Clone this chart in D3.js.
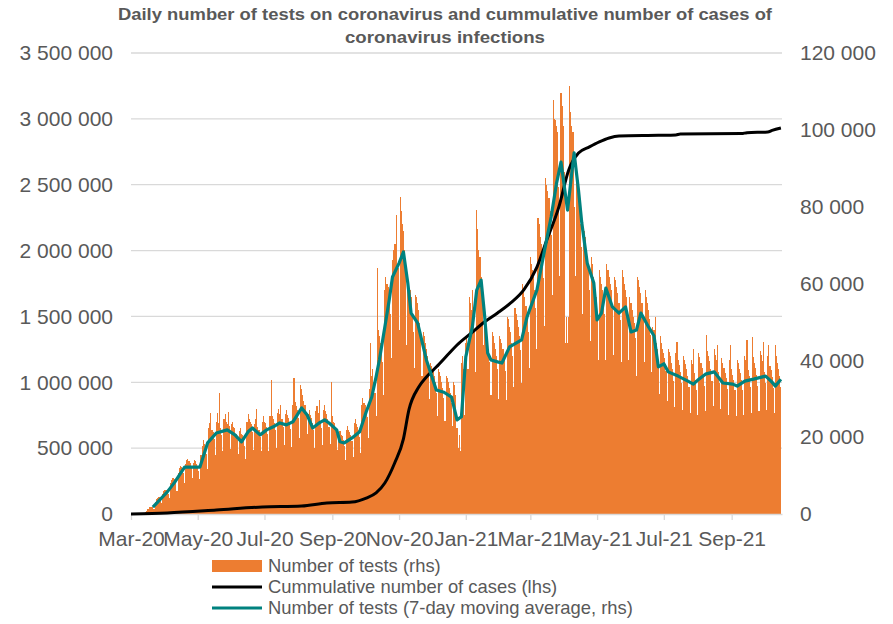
<!DOCTYPE html>
<html>
<head>
<meta charset="utf-8">
<script src="https://cdn.jsdelivr.net/npm/d3@7"></script>
<style>
  body { margin: 0; background: #fff; }
  text { font-family: "Liberation Sans", Arial, sans-serif; }
</style>
</head>
<body>
<div id="chart"></div>
<script>
// daily number of tests (right axis), one row per week Mon..Sun, starting Mon 2 Mar 2020
var testsStart = "2020-03-02";
var testsByWeek = [
  [0,0,0,0,0,0,0],
  [0,0,0,0,0,500,700],
  [1200,1400,1700,1900,1800,1700,1300],
  [3100,3800,4100,4400,4300,3900,2900],
  [5300,6000,6300,6200,5800,5300,4100],
  [8100,8900,9300,9400,9100,8400,6100],
  [10600,12000,12500,12300,11700,10800,8000],
  [13000,14100,14400,13700,13400,12300,9300],
  [13400,14100,13700,13000,12300,11300,9000],
  [15400,17800,19200,18200,17100,15700,11800],
  [22300,23700,26400,21900,21300,19600,15400],
  [24000,26400,23700,31500,22300,20500,16500],
  [24700,26100,24000,23300,26600,23000,16800],
  [23300,24000,22600,22300,20900,19200,15500],
  [21600,22300,20900,20600,19200,17700,14200],
  [24000,26100,24700,24000,23300,21400,16600],
  [23300,24700,27300,22600,21900,20100,16300],
  [24000,25400,24000,23700,22600,20800,16500],
  [25400,35000,25400,24700,23700,21800,17200],
  [26400,27400,26100,28400,24700,22700,18000],
  [26100,27100,25700,25000,24000,22100,17400],
  [28500,35300,29100,28100,27100,24900,19800],
  [33600,32600,30900,29500,28500,26200,20800],
  [26100,27100,25700,25000,23700,21800,17300],
  [26700,28100,26400,29700,24300,22400,18000],
  [27100,28500,26700,26100,24700,22700,18100],
  [34300,25400,24000,23700,22600,20800,16600],
  [20900,21600,20600,20200,19200,17700,14000],
  [21900,23000,21900,21300,20600,19000,14800],
  [23700,24700,23300,22600,21900,20100,15800],
  [28500,30200,28800,28500,27400,25200,19700],
  [32600,44600,36000,37700,34300,31600,25600],
  [64100,48000,46300,44600,42900,39500,31000],
  [58300,61700,60000,59000,56600,52000,40500],
  [66200,68600,70300,70300,77800,64000,48000],
  [82600,78900,75400,73700,68600,63100,44000],
  [61700,60000,58300,56600,51400,47300,38000],
  [56900,56600,54900,53100,49700,45700,36000],
  [47300,46300,44600,42900,41100,37800,30000],
  [39400,38400,37000,36000,34300,31600,25400],
  [37700,37000,36000,34300,32900,30300,24200],
  [36000,35300,34300,32900,31500,29000,23000],
  [34300,33600,30900,22300,17100,20600,16500],
  [39400,41100,37700,25700,44600,46300,37700],
  [56600,54900,53100,58300,51400,47300,37000],
  [79200,74100,68600,66900,61700,56800,44000],
  [49700,48000,46300,44600,42900,39500,31000],
  [47300,46300,44600,42900,41100,37800,30000],
  [46300,45600,44600,42900,40500,37300,29800],
  [51400,50700,48700,47300,44600,41000,33000],
  [53500,52100,50400,48700,46300,42600,34000],
  [60000,58300,56600,54200,51400,47300,38000],
  [66900,65100,63400,61700,58300,53600,43000],
  [77100,75400,72000,70300,66900,61500,49000],
  [87400,85700,84000,82300,78900,72600,57000],
  [107700,102900,102500,101100,99400,85000,62000],
  [109700,106300,101100,89100,44600,51400,44600],
  [51400,111400,104600,101100,99400,80000,62000],
  [90900,89100,84000,80600,75400,69400,52000],
  [73700,72000,68600,66900,63400,58300,45000],
  [66900,65100,61700,60000,56600,52100,40000],
  [63400,61700,60000,58300,56600,52100,40000],
  [65100,63400,61700,60000,58300,53600,41500],
  [61700,61000,59000,57600,54900,50500,39600],
  [63400,61700,60000,58300,56600,52100,40000],
  [56600,54900,53100,51400,49700,45700,35800],
  [61700,61000,59000,57600,54900,50500,39600],
  [58300,56600,54900,53100,50700,46600,37000],
  [48700,48000,51400,44600,42900,39500,31200],
  [46300,44600,42900,41800,40500,37300,29500],
  [42900,42200,41100,39400,37700,34700,27800],
  [41800,44800,40100,38700,37000,34000,27000],
  [41100,40100,39100,37700,36000,33100,26400],
  [40100,39100,43000,36700,35000,32200,25800],
  [41800,40800,39400,38100,36300,33400,26700],
  [46500,42500,41100,39800,37700,34700,28000],
  [42900,41500,40100,43900,37000,34000,27400],
  [40500,39400,38100,36700,35300,32500,25800],
  [40100,44000,37700,36300,35000,32200,25600],
  [40100,39400,37700,36700,35000,32200,25700],
  [41100,40100,45200,37400,36000,33100,26400],
  [46000,40800,39400,38100,36300,33400,26800],
  [42500,41500,39800,44800,37000,34000,27200],
  [41100,44000,38400,37400,35700,32800,26200],
  [43900,41100,39400,37700,36000,33100]
];

// 7-day moving average of tests (right axis)
var maDates = ["2020-03-21","2020-04-03","2020-04-10","2020-04-19","2020-05-03","2020-05-10","2020-05-18","2020-05-28",
  "2020-06-04","2020-06-10","2020-06-16","2020-06-20","2020-06-27","2020-07-03","2020-07-09","2020-07-15","2020-07-21",
  "2020-07-27","2020-08-04","2020-08-09","2020-08-14","2020-08-20","2020-08-25","2020-08-29","2020-09-05","2020-09-08",
  "2020-09-12","2020-09-19","2020-09-26","2020-10-02","2020-10-07","2020-10-11","2020-10-14","2020-10-19","2020-10-23",
  "2020-10-26","2020-11-01","2020-11-05","2020-11-09","2020-11-12","2020-11-18","2020-11-26","2020-12-05","2020-12-12",
  "2020-12-19","2020-12-24","2020-12-28","2021-01-01","2021-01-07","2021-01-11","2021-01-15","2021-01-18","2021-01-21",
  "2021-01-24","2021-01-30","2021-02-03","2021-02-10","2021-02-21","2021-02-26","2021-03-07","2021-03-14","2021-03-20",
  "2021-03-25","2021-03-29","2021-04-04","2021-04-10","2021-04-14","2021-04-17","2021-04-22","2021-04-28","2021-05-01",
  "2021-05-05","2021-05-09","2021-05-15","2021-05-21","2021-05-27","2021-06-01","2021-06-06","2021-06-10","2021-06-17",
  "2021-06-22","2021-06-26","2021-07-01","2021-07-05","2021-07-14","2021-07-23","2021-07-28","2021-08-02","2021-08-08",
  "2021-08-16","2021-08-24","2021-09-02","2021-09-06","2021-09-13","2021-09-21","2021-10-02","2021-10-07","2021-10-11",
  "2021-10-16"];
var maValues = [1800,5700,8300,12200,12200,18500,21100,21900,20600,18800,21400,22400,20600,21900,22700,23700,23200,24000,
  27600,25800,22400,23700,24500,23700,21900,18800,18500,19800,21400,26600,30400,35700,40100,48700,55700,61700,65300,68200,
  60100,52300,49700,40100,32300,31700,30400,24500,25300,40900,48700,58300,60900,52300,41900,40100,39600,39300,43500,45300,
  51300,58300,68700,77300,86200,91600,79100,94000,84300,75800,65300,60100,50500,52300,58800,53900,52300,53900,47400,47900,
  52300,48700,46400,38300,39100,37000,35900,34600,33800,35100,36400,37000,34100,33800,33300,34600,35100,35900,34600,33300,
  35100];

// cumulative number of cases (left axis)
var casesDates = ["2020-03-01","2020-04-03","2020-05-18","2020-06-29","2020-08-04","2020-08-27","2020-09-19","2020-10-02",
  "2020-10-11","2020-10-19","2020-10-28","2020-11-05","2020-11-10","2020-11-19","2020-11-26","2020-12-05","2020-12-17",
  "2020-12-24","2021-01-06","2021-01-18","2021-01-30","2021-02-11","2021-02-23","2021-03-07","2021-03-16","2021-03-27",
  "2021-04-05","2021-04-14","2021-04-24","2021-05-03","2021-05-12","2021-05-21","2021-06-26","2021-07-12","2021-07-16",
  "2021-09-10","2021-09-15","2021-10-04","2021-10-08","2021-10-16"];
var casesValues = [0,8000,30000,53000,61000,84000,91000,121000,160000,235000,387000,570000,790000,964000,1040000,1116000,
  1222000,1283000,1374000,1458000,1526000,1602000,1701000,1875000,2080000,2330000,2610000,2740000,2787000,2825000,2855000,
  2870000,2875000,2878000,2885000,2888000,2895000,2900000,2912000,2930000];

var leftTicks = [0,500000,1000000,1500000,2000000,2500000,3000000,3500000];
var rightTicks = [0,20000,40000,60000,80000,100000,120000];
var titleLines = ["Daily number of tests on coronavirus and cummulative number of cases of", "coronavirus infections"];
var legendLabels = ["Number of tests (rhs)", "Cummulative number of cases (lhs)", "Number of tests (7-day moving average, rhs)"];

var W = 893, H = 624;
var margin = {top: 53, right: 111, bottom: 110, left: 131};
var parse = d3.timeParse("%Y-%m-%d");
var grey = "#595959";

var svg = d3.select("#chart").append("svg")
  .attr("width", W).attr("height", H);

var t0 = parse(testsStart);
var tests = testsByWeek.flat().map(function(v, i) {
  return {date: d3.timeDay.offset(t0, i), value: v};
});
var ma = maDates.map(function(d, i) { return {date: parse(d), value: maValues[i]}; });
var cases = casesDates.map(function(d, i) { return {date: parse(d), value: casesValues[i]}; });

var x = d3.scaleTime()
  .domain([parse("2020-03-01"), parse("2021-10-17")])
  .range([margin.left, W - margin.right]);
var yL = d3.scaleLinear().domain([0, 3500000]).range([H - margin.bottom, margin.top]);
var yR = d3.scaleLinear().domain([0, 120000]).range([H - margin.bottom, margin.top]);

var fmt = d3.formatLocale({decimal: ",", thousands: " ", grouping: [3], currency: ["", ""]}).format(",");

// gridlines
svg.append("g").selectAll("line")
  .data(leftTicks.slice(1))
  .enter().append("line")
    .attr("x1", margin.left).attr("x2", W - margin.right)
    .attr("y1", function(d) { return yL(d); })
    .attr("y2", function(d) { return yL(d); })
    .attr("stroke", "#d9d9d9").attr("stroke-width", 1.3);

// bars - one per day, snapped to whole pixels so they sit edge to edge
var step = x(d3.timeDay.offset(t0, 1)) - x(t0);
function left(d) { return Math.round(x(d) - step / 2); }
svg.append("g").attr("shape-rendering", "crispEdges").selectAll("rect")
  .data(tests.filter(function(d) { return d.value > 0; }))
  .enter().append("rect")
    .attr("x", function(d) { return left(d.date); })
    .attr("width", function(d) { return left(d3.timeDay.offset(d.date, 1)) - left(d.date); })
    .attr("y", function(d) { return yR(d.value); })
    .attr("height", function(d) { return yR(0) - yR(d.value); })
    .attr("fill", "#ed7d31");

// x axis
var xAxis = svg.append("g")
  .attr("transform", "translate(0," + (H - margin.bottom) + ")")
  .call(d3.axisBottom(x)
    .ticks(d3.timeMonth.every(2))
    .tickFormat(d3.timeFormat("%b-%y"))
    .tickSizeInner(6).tickSizeOuter(0).tickPadding(11));
xAxis.select(".domain").attr("stroke", "#d9d9d9").attr("stroke-width", 1.3);
xAxis.selectAll(".tick line").attr("stroke", "#d9d9d9").attr("stroke-width", 1.3);
xAxis.selectAll("text").attr("fill", grey).style("font-size", "21px");

// left axis
var lAxis = svg.append("g")
  .attr("transform", "translate(" + margin.left + ",0)")
  .call(d3.axisLeft(yL).tickValues(leftTicks).tickFormat(fmt).tickSize(0).tickPadding(18));
lAxis.select(".domain").remove();
lAxis.selectAll("text").attr("fill", grey).style("font-size", "21px");

// right axis
var rAxis = svg.append("g")
  .attr("transform", "translate(" + (W - margin.right) + ",0)")
  .call(d3.axisRight(yR).tickValues(rightTicks).tickFormat(fmt).tickSize(0).tickPadding(18));
rAxis.select(".domain").remove();
rAxis.selectAll("text").attr("fill", grey).style("font-size", "21px");

// lines
svg.append("path")
  .datum(cases)
  .attr("fill", "none").attr("stroke", "#000").attr("stroke-width", 3)
  .attr("d", d3.line().curve(d3.curveMonotoneX)
    .x(function(d) { return x(d.date); })
    .y(function(d) { return yL(d.value); }));

svg.append("path")
  .datum(ma)
  .attr("fill", "none").attr("stroke", "#00827f").attr("stroke-width", 3.2)
  .attr("stroke-linejoin", "round")
  .attr("d", d3.line()
    .x(function(d) { return x(d.date); })
    .y(function(d) { return yR(d.value); }));

// title
svg.append("text")
  .attr("x", 445).attr("y", 20)
  .attr("text-anchor", "middle")
  .attr("textLength", 654).attr("lengthAdjust", "spacingAndGlyphs")
  .style("font-size", "17px").style("font-weight", "bold").attr("fill", grey)
  .text(titleLines[0]);
svg.append("text")
  .attr("x", 445).attr("y", 43)
  .attr("text-anchor", "middle")
  .attr("textLength", 200).attr("lengthAdjust", "spacingAndGlyphs")
  .style("font-size", "17px").style("font-weight", "bold").attr("fill", grey)
  .text(titleLines[1]);

// legend
var legend = svg.append("g");
legend.append("rect")
  .attr("x", 212).attr("y", 560).attr("width", 50).attr("height", 12)
  .attr("fill", "#ed7d31");
legend.append("line")
  .attr("x1", 212).attr("x2", 262).attr("y1", 587).attr("y2", 587)
  .attr("stroke", "#000").attr("stroke-width", 3);
legend.append("line")
  .attr("x1", 212).attr("x2", 262).attr("y1", 608).attr("y2", 608)
  .attr("stroke", "#00827f").attr("stroke-width", 3);
legend.selectAll("text")
  .data(legendLabels)
  .enter().append("text")
    .attr("x", 268)
    .attr("y", function(d, i) { return 566 + i * 21; })
    .attr("dy", "0.35em")
    .style("font-size", "18.4px").attr("fill", grey)
    .text(function(d) { return d; });
</script>
</body>
</html>
